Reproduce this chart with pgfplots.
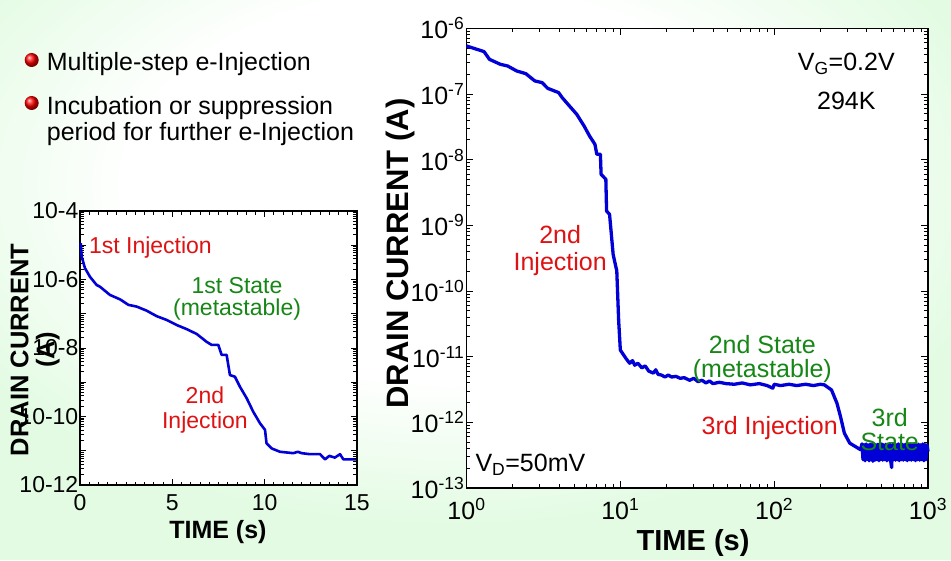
\documentclass[border=0pt]{standalone}
\usepackage{fontspec}
\setmainfont{Liberation Sans}
\usepackage{pgfplots}
\pgfplotsset{compat=1.18}
\definecolor{bggreen}{RGB}{226,251,226}
\definecolor{curve}{RGB}{0,0,215}
\definecolor{annred}{RGB}{222,18,18}
\definecolor{anngreen}{RGB}{22,135,22}
\pgfdeclareradialshading{bgshade}{\pgfpoint{0bp}{0bp}}{color(0bp)=(white); color(14bp)=(white); color(25bp)=(bggreen); color(50bp)=(bggreen)}
\begin{document}
\begin{tikzpicture}
\useasboundingbox (0pt,0pt) rectangle (951pt,560pt);
\fill[bggreen] (0pt,0pt) rectangle (951pt,560pt);
\shade[shading=bgshade] (-120pt,30pt) rectangle (1020pt,720pt);
% bullets
\shade[ball color=red] (31.7pt,500pt) circle (7pt);
\node[anchor=base west, inner sep=0pt, font=\fontsize{25}{28}\selectfont] at (46.7pt,489pt) {Multiple-step e-Injection};
\shade[ball color=red] (31.7pt,457pt) circle (7pt);
\node[anchor=base west, inner sep=0pt, font=\fontsize{25}{28}\selectfont] at (46.7pt,445pt) {Incubation or suppression};
\node[anchor=base west, inner sep=0pt, font=\fontsize{25}{28}\selectfont] at (46.7pt,419pt) {period for further e-Injection};

% ---------- left plot ----------
\begin{axis}[at={(80pt,75pt)}, anchor=south west, width=277pt, height=274pt, scale only axis,
  axis background/.style={fill=white},
  xmin=0, xmax=15, ymode=log, ymin=1e-12, ymax=1e-4,
  xtick={0,5,10,15}, xticklabels={0,5,10,15}, minor x tick num=9,
  ytick={1e-12,1e-11,1e-10,1e-9,1e-8,1e-7,1e-6,1e-5,1e-4},
  yticklabels={10-12,,10-10,,10-8,,10-6,,10-4},
  ytick pos=left,
  tick align=inside, major tick length=6pt, minor tick length=3.5pt,
  axis line style={line width=1.1pt}, every tick/.style={black, line width=0.9pt},
  tick label style={font=\fontsize{23}{23}\selectfont, inner sep=0.5pt},
  yticklabel style={xshift=-1pt},
  xticklabel style={yshift=-9pt},
  clip=false]
\addplot[curve, line width=2.6pt, line join=round] coordinates {
(0.04,1.15e-5) (0.09,4.68e-6) (0.27,2.14e-6) (0.54,1.20e-6) (0.90,6.92e-7) (1.08,6.17e-7)
(1.62,3.55e-7) (2.17,2.63e-7) (2.62,1.82e-7) (3.07,1.62e-7) (3.61,1.23e-7) (4.15,8.51e-8)
(4.69,6.61e-8) (5.24,4.68e-8) (5.78,3.55e-8) (6.32,2.57e-8) (6.86,1.51e-8) (7.13,1.23e-8)
(7.49,1.23e-8) (7.67,6.31e-9) (7.94,6.31e-9) (8.12,1.62e-9) (8.39,1.45e-9) (8.66,7.41e-10)
(9.03,3.39e-10) (9.38,1.38e-10) (9.75,6.31e-11) (10.02,4.07e-11) (10.10,1.66e-11) (10.38,1.17e-11)
(10.83,9.33e-12) (11.55,8.51e-12) (11.80,9.33e-12) (12.0,8.51e-12) (12.45,7.94e-12) (13.0,7.94e-12)
(13.27,5.62e-12) (13.5,7.08e-12) (13.8,6.31e-12) (14.08,7.94e-12) (14.26,5.62e-12) (15.0,5.62e-12)
};
\node[annred, anchor=west, font=\fontsize{23}{26}\selectfont] at (rel axis cs:0.02,0.865) {1st Injection};
\node[anngreen, align=center, font=\fontsize{23}{22}\selectfont] at (rel axis cs:0.567,0.679) {1st State\\(metastable)};
\node[annred, align=center, font=\fontsize{23}{25}\selectfont] at (rel axis cs:0.451,0.274) {2nd\\Injection};
\node[rotate=90, align=center, font=\bfseries\fontsize{25.5}{26}\selectfont] at (rel axis cs:-0.162,0.493) {DRAIN CURRENT\\(A)};
\node[font=\bfseries\fontsize{25}{25}\selectfont] at (rel axis cs:0.498,-0.172) {TIME (s)};
\end{axis}
\begin{axis}[at={(80pt,75pt)}, anchor=south west, width=277pt, height=274pt, scale only axis,
  xmin=0, xmax=15, ymode=log, ymin=1e-12, ymax=1e-4,
  hide x axis, axis y line*=right,
  ytick={1e-12,1e-11,1e-10,1e-9,1e-8,1e-7,1e-6,1e-5,1e-4}, yticklabels={},
  minor ytick={2e-12,3e-12,4e-12,5e-12,6e-12,7e-12,8e-12,9e-12,
    2e-11,3e-11,4e-11,5e-11,6e-11,7e-11,8e-11,9e-11,
    2e-10,3e-10,4e-10,5e-10,6e-10,7e-10,8e-10,9e-10,
    2e-9,3e-9,4e-9,5e-9,6e-9,7e-9,8e-9,9e-9,
    2e-8,3e-8,4e-8,5e-8,6e-8,7e-8,8e-8,9e-8,
    2e-7,3e-7,4e-7,5e-7,6e-7,7e-7,8e-7,9e-7,
    2e-6,3e-6,4e-6,5e-6,6e-6,7e-6,8e-6,9e-6,
    2e-5,3e-5,4e-5,5e-5,6e-5,7e-5,8e-5,9e-5},
  tick align=inside, major tick length=6pt, minor tick length=4pt,
  axis line style={line width=1.1pt}, every tick/.style={black, line width=0.9pt}]
\end{axis}

% ---------- right plot ----------
\begin{axis}[at={(466.5pt,72pt)}, anchor=south west, width=461.5pt, height=459.7pt, scale only axis,
  axis background/.style={fill=white},
  xmode=log, ymode=log, xmin=1, xmax=1000, ymin=1e-13, ymax=1e-6,
  xtick={1,10,100,1000},
  xticklabels={10\textsuperscript{0},10\textsuperscript{1},10\textsuperscript{2},10\textsuperscript{3}},
  ytick={1e-13,1e-12,1e-11,1e-10,1e-9,1e-8,1e-7,1e-6},
  yticklabels={10\textsuperscript{-13},10\textsuperscript{-12},10\textsuperscript{-11},10\textsuperscript{-10},10\textsuperscript{-9},10\textsuperscript{-8},10\textsuperscript{-7},10\textsuperscript{-6}},
  tick align=inside, major tick length=7pt, minor tick length=4pt,
  axis line style={line width=1.1pt}, every tick/.style={black, line width=0.9pt},
  tick label style={font=\fontsize{25}{25}\selectfont},
  yticklabel style={inner sep=2pt},
  xticklabel style={yshift=-7pt},
  clip=false]
\addplot[curve, line width=3.3pt, line join=round] coordinates {
(1,5.38e-7) (1.30,4.42e-7) (1.41,3.37e-7) (1.66,2.83e-7) (1.85,2.67e-7) (2.12,2.24e-7)
(2.43,2.04e-7) (2.78,1.58e-7) (3.10,1.49e-7) (3.37,1.22e-7) (3.97,1.05e-7) (4.19,8.79e-8)
(4.67,6.56e-8) (5.21,4.90e-8) (5.81,3.26e-8) (6.31,2.29e-8) (6.84,1.71e-8) (7.03,1.21e-8)
(7.42,1.21e-8) (7.50,5.98e-9) (8.05,5.02e-9) (8.14,1.65e-9) (8.51,1.47e-9) (8.98,3.61e-10)
(9.38,2.26e-10) (9.48,2.06e-10) (9.75,3.59e-11) (10.0,1.26e-11) (10.9,9.33e-12)
(11.5,7.94e-12) (12.0,8.71e-12) (12.4,7.41e-12) (13.0,7.94e-12) (13.8,6.76e-12) (14.5,7.24e-12)
(15.3,6.03e-12) (16.4,5.62e-12) (17.0,6.31e-12) (17.6,5.37e-12) (18.5,5.25e-12) (19.5,4.90e-12)
(20.5,5.25e-12) (21.5,4.90e-12) (23,5.01e-12) (24.5,4.68e-12) (26,4.79e-12) (28.2,4.37e-12)
(30,4.68e-12) (32,4.17e-12) (34,4.37e-12) (36,3.98e-12) (38,4.27e-12) (40,3.89e-12)
(44,4.07e-12) (48.7,3.89e-12) (55,3.80e-12) (62,3.98e-12) (70,3.72e-12) (80,3.89e-12)
(90,3.63e-12) (98,3.31e-12) (100,3.80e-12) (110,3.63e-12) (125,3.80e-12) (140,3.63e-12)
(160,3.80e-12) (180,3.63e-12) (200,3.80e-12) (212,3.72e-12) (236,3.11e-12) (256,1.95e-12)
(270,1.22e-12) (286,6.84e-13) (310,4.82e-13) (365,3.82e-13)
(372,4.70e-13) (378,2.70e-13) (384,4.60e-13) (390,2.60e-13) (396,4.70e-13) (402,2.75e-13)
(408,4.55e-13) (414,2.60e-13) (420,4.65e-13) (426,2.70e-13) (432,4.60e-13) (438,2.55e-13)
(445,4.70e-13) (452,2.65e-13) (459,4.55e-13) (466,2.70e-13) (473,4.65e-13) (480,2.60e-13)
(487,4.60e-13) (494,2.70e-13) (501,4.70e-13) (508,2.65e-13) (516,4.55e-13) (524,2.70e-13)
(532,4.65e-13) (540,2.60e-13) (548,4.60e-13) (556,2.70e-13) (564,4.70e-13) (572,2.60e-13)
(580,2.05e-13) (588,4.60e-13) (596,2.70e-13) (605,4.65e-13) (614,2.65e-13) (623,4.55e-13)
(632,2.70e-13) (641,4.70e-13) (650,2.60e-13) (660,4.60e-13) (670,2.70e-13) (680,4.65e-13)
(690,2.65e-13) (700,4.55e-13) (711,2.70e-13) (722,4.70e-13) (733,2.60e-13) (744,4.60e-13)
(755,2.70e-13) (767,4.65e-13) (779,2.65e-13) (791,4.55e-13) (803,2.70e-13) (816,4.70e-13)
(829,2.60e-13) (842,4.60e-13) (855,2.70e-13) (869,4.65e-13) (883,2.65e-13) (897,4.55e-13)
(911,2.70e-13) (925,4.70e-13) (940,2.60e-13) (955,4.60e-13) (970,2.70e-13) (985,4.55e-13)
(1000,3.60e-13)
};
\node[font=\fontsize{25}{25}\selectfont] at (rel axis cs:0.823,0.922) {V\textsubscript{G}=0.2V};
\node[font=\fontsize{25}{25}\selectfont] at (rel axis cs:0.823,0.842) {294K};
\node[annred, align=center, font=\fontsize{25}{27}\selectfont] at (rel axis cs:0.203,0.517) {2nd\\Injection};
\node[anngreen, align=center, font=\fontsize{25}{24}\selectfont] at (rel axis cs:0.641,0.280) {2nd State\\(metastable)};
\node[annred, font=\fontsize{25}{25}\selectfont] at (rel axis cs:0.657,0.131) {3rd Injection};
\node[anngreen, align=center, font=\fontsize{25}{24}\selectfont] at (rel axis cs:0.917,0.128) {3rd\\State};
\node[anchor=west, font=\fontsize{25}{25}\selectfont] at (rel axis cs:0.012,0.051) {V\textsubscript{D}=50mV};
\node[rotate=90, font=\bfseries\fontsize{31}{31}\selectfont] at (rel axis cs:-0.142,0.51) {DRAIN CURRENT (A)};
\node[font=\bfseries\fontsize{29}{29}\selectfont] at (rel axis cs:0.491,-0.120) {TIME (s)};
\end{axis}
\end{tikzpicture}
\end{document}
